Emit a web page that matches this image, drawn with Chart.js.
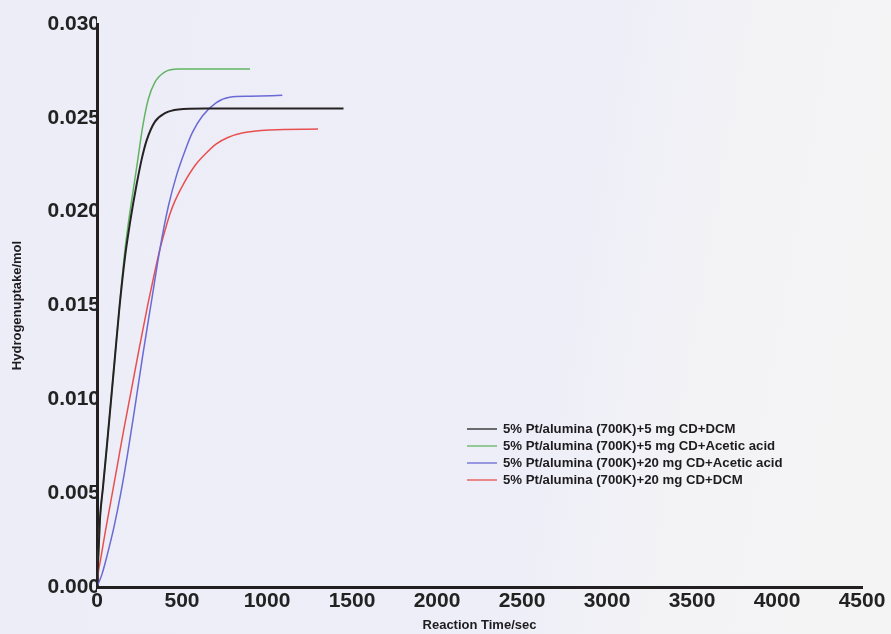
<!DOCTYPE html>
<html>
<head>
<meta charset="utf-8">
<title>Hydrogen uptake</title>
<script src="https://cdn.jsdelivr.net/npm/chart.js@4/dist/chart.umd.min.js"></script>
<style>
    html, body {
        margin: 0;
        padding: 0;
        width: 891px;
        height: 634px;
        overflow: hidden;
        background: linear-gradient(100deg, #ededf8 0%, #eeeef8 62%, #f3f3f6 76%, #f4f4f4 100%);
    }
    canvas { display: block; }
</style>
</head>
<body>
<canvas id="uptake-chart" width="891" height="634"></canvas>
<script>
// Reaction time (s) and hydrogen uptake (mol) for each run
const timeCd5Dcm = [0, 12, 18, 35, 57, 81, 106, 131, 165, 194, 214, 234, 263, 292, 341, 400, 478, 635, 1450];
const uptakeCd5Dcm = [0, 0.0025, 0.0037, 0.0053, 0.0074, 0.0098, 0.0123, 0.0148, 0.0176, 0.0194, 0.0205, 0.0215, 0.0228, 0.0238, 0.0248, 0.02525, 0.02545, 0.0255, 0.0255];

const timeCd5Acetic = [0, 12, 18, 35, 57, 81, 106, 131, 165, 194, 214, 234, 253, 272, 302, 341, 400, 478, 900];
const uptakeCd5Acetic = [0, 0.0025, 0.0037, 0.0053, 0.0074, 0.0098, 0.0123, 0.0148, 0.0180, 0.0200, 0.0212, 0.0224, 0.0236, 0.0247, 0.0260, 0.0269, 0.02745, 0.0276, 0.0276];

const timeCd20Acetic = [0, 30, 60, 100, 140, 180, 220, 270, 320, 370, 420, 470, 520, 560, 620, 700, 780, 900, 1090];
const uptakeCd20Acetic = [0, 0.0007, 0.0017, 0.0032, 0.0050, 0.0071, 0.0094, 0.0124, 0.0152, 0.0180, 0.0203, 0.0220, 0.0233, 0.0242, 0.0251, 0.0258, 0.0261, 0.02615, 0.0262];

const timeCd20Dcm = [0, 8, 20, 50, 80, 120, 160, 200, 250, 300, 340, 370, 400, 430, 460, 510, 580, 640, 700, 770, 860, 1020, 1300];
const uptakeCd20Dcm = [0, 0.0008, 0.0014, 0.0030, 0.0045, 0.0065, 0.0085, 0.0104, 0.0128, 0.0151, 0.0168, 0.0180, 0.0190, 0.0199, 0.0206, 0.0215, 0.0225, 0.0231, 0.0236, 0.02395, 0.0242, 0.02435, 0.0244];

const seriesLabels = [
    '5% Pt/alumina (700K)+5 mg CD+DCM',
    '5% Pt/alumina (700K)+5 mg CD+Acetic acid',
    '5% Pt/alumina (700K)+20 mg CD+Acetic acid',
    '5% Pt/alumina (700K)+20 mg CD+DCM'
];
const seriesColors = ['#262224', '#62b462', '#6a6ad4', '#e85050'];
const seriesWidths = [2, 1.5, 1.5, 1.5];

const xTickValues = [0, 500, 1000, 1500, 2000, 2500, 3000, 3500, 4000, 4500];
const yTickValues = [0, 0.005, 0.010, 0.015, 0.020, 0.025, 0.030];

function toPoints(times, values) {
    return times.map((t, i) => ({ x: t, y: values[i] }));
}

const seriesPoints = [
    toPoints(timeCd5Dcm, uptakeCd5Dcm),
    toPoints(timeCd5Acetic, uptakeCd5Acetic),
    toPoints(timeCd20Acetic, uptakeCd20Acetic),
    toPoints(timeCd20Dcm, uptakeCd20Dcm)
];

// Legend box sits inside the plot, lower right of the curves
const insideLegend = {
    id: 'insideLegend',
    afterDraw(chart) {
        const ctx = chart.ctx;
        const x0 = 467, lineLen = 30, textX = 503;
        let y = 429;
        ctx.save();
        ctx.font = 'bold 12px "Liberation Sans", Arial, sans-serif';
        ctx.textBaseline = 'middle';
        ctx.textAlign = 'left';
        chart.data.datasets.forEach(ds => {
            ctx.strokeStyle = ds.borderColor;
            ctx.lineWidth = 1.3;
            ctx.beginPath();
            ctx.moveTo(x0, y);
            ctx.lineTo(x0 + lineLen, y);
            ctx.stroke();
            // text is a little wide in this figure, stretch it sideways
            ctx.save();
            ctx.translate(textX, y + 1);
            ctx.scale(1.1, 1);
            ctx.fillStyle = '#1e1c1e';
            ctx.fillText(ds.label, 0, 0);
            ctx.restore();
            y += 17;
        });
        ctx.restore();
    }
};

const ctx = document.getElementById('uptake-chart').getContext('2d');
new Chart(ctx, {
    type: 'line',
    data: {
        datasets: seriesPoints.map((pts, i) => ({
            label: seriesLabels[i],
            data: pts,
            borderColor: seriesColors[i],
            backgroundColor: seriesColors[i],
            borderWidth: seriesWidths[i],
            pointRadius: 0,
            fill: false,
            cubicInterpolationMode: 'monotone'
        }))
    },
    options: {
        responsive: false,
        animation: false,
        layout: { padding: { left: 0, top: 24, right: 29, bottom: 0 } },
        plugins: {
            legend: { display: false },
            tooltip: { enabled: false }
        },
        scales: {
            x: {
                type: 'linear',
                min: 0,
                max: 4500,
                afterFit(scale) { scale.height = 47; },
                afterBuildTicks(scale) { scale.ticks = xTickValues.map(v => ({ value: v })); },
                grid: { display: false, drawTicks: false },
                border: { display: true, color: '#231f20', width: 3 },
                ticks: {
                    padding: 2,
                    color: '#222',
                    font: { family: '"Liberation Sans", Arial, sans-serif', size: 21, weight: 'bold' },
                    maxRotation: 0,
                    autoSkip: false,
                    callback: v => String(v)
                },
                title: {
                    display: true,
                    text: 'Reaction Time/sec',
                    color: '#1e1c1e',
                    font: { family: '"Liberation Sans", Arial, sans-serif', size: 13, weight: 'bold' },
                    padding: { top: 0, bottom: 1 }
                }
            },
            y: {
                min: 0,
                max: 0.030,
                afterFit(scale) { scale.width = 97; },
                afterBuildTicks(scale) { scale.ticks = yTickValues.map(v => ({ value: v })); },
                grid: { display: false, drawTicks: false },
                border: { display: true, color: '#231f20', width: 3 },
                ticks: {
                    padding: -3,
                    color: '#222',
                    font: { family: '"Liberation Sans", Arial, sans-serif', size: 21, weight: 'bold' },
                    callback: v => v.toFixed(3)
                },
                title: {
                    display: true,
                    text: 'Hydrogenuptake/mol',
                    color: '#1e1c1e',
                    font: { family: '"Liberation Sans", Arial, sans-serif', size: 13, weight: 'bold' },
                    padding: { top: 10, bottom: 0 }
                }
            }
        }
    },
    plugins: [insideLegend]
});
</script>
</body>
</html>
